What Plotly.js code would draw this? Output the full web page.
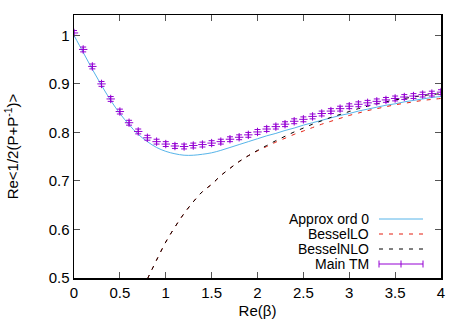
<!DOCTYPE html>
<html><head><meta charset="utf-8">
<script src="https://cdn.plot.ly/plotly-3.0.1.min.js"></script>
<style>html,body{margin:0;padding:0;background:#fff}#chart{width:468px;height:327px}</style>
</head><body><div id="chart"></div>
<script>
// ---- data ----
const beta = [0.0,0.1,0.2,0.3,0.4,0.5,0.6,0.7,0.8,0.9,1.0,1.1,1.2,1.3,1.4,1.5,1.6,1.7,1.8,1.9,2.0,
              2.1,2.2,2.3,2.4,2.5,2.6,2.7,2.8,2.9,3.0,3.1,3.2,3.3,3.4,3.5,3.6,3.7,3.8,3.9,4.0];
const mainTM = [1.005,0.971,0.936,0.900,0.869,0.843,0.820,0.802,0.789,0.781,0.776,0.772,0.771,0.773,0.775,0.778,0.781,0.786,0.790,0.795,0.801,
                0.807,0.812,0.817,0.823,0.827,0.833,0.839,0.844,0.849,0.854,0.858,0.861,0.864,0.867,0.870,0.873,0.875,0.878,0.880,0.883];
const mainTMerr = [0.005,0.005,0.005,0.005,0.005,0.005,0.005,0.005,0.005,0.005,0.005,0.005,0.005,0.005,0.005,0.005,0.005,0.005,0.005,0.005,0.005,
                   0.005,0.005,0.005,0.005,0.005,0.005,0.005,0.005,0.005,0.005,0.005,0.005,0.005,0.005,0.005,0.005,0.005,0.005,0.005,0.005];
const approxOrd0 = [1.000,0.965,0.930,0.897,0.866,0.839,0.816,0.796,0.781,0.769,0.761,0.756,0.753,0.753,0.755,0.758,0.763,0.769,0.775,0.781,0.787,
                    0.793,0.798,0.804,0.809,0.815,0.820,0.825,0.830,0.835,0.839,0.844,0.848,0.852,0.856,0.859,0.863,0.866,0.869,0.872,0.874];
const betaBessel = [0.8,0.9,1.0,1.1,1.2,1.3,1.4,1.5,1.6,1.7,1.8,1.9,2.0,2.1,2.2,2.3,2.4,2.5,2.6,2.7,2.8,2.9,3.0,3.1,3.2,3.3,3.4,3.5,3.6,3.7,3.8,3.9,4.0];
const besselLO  = [0.498,0.537,0.574,0.605,0.633,0.657,0.678,0.693,0.711,0.726,0.740,0.752,0.762,0.771,0.780,0.788,0.796,0.803,0.810,0.817,0.823,0.829,0.835,0.840,0.845,0.849,0.853,0.857,0.860,0.863,0.866,0.868,0.870];
const besselNLO = [0.498,0.537,0.574,0.605,0.633,0.657,0.678,0.693,0.711,0.726,0.740,0.752,0.763,0.773,0.783,0.792,0.801,0.809,0.817,0.824,0.831,0.837,0.843,0.849,0.854,0.859,0.863,0.867,0.870,0.873,0.876,0.878,0.880];
const seriesNames = ['Approx ord 0','BesselLO','BesselNLO','Main TM'];
const seriesColors = ['#56b4e9','#e51e10','#000000','#9400d3'];
const xTitle = 'Re(β)';
const yTitle = 'Re<1/2(P+P<sup>-1</sup>)>';

// ---- layout constants ----
const W = 468, H = 327;
const M = {l:74, r:27, t:15, b:49};
const font = {family:'Liberation Sans, Arial, sans-serif', size:15, color:'#000'};
const keyFont = {family:'Liberation Sans, Arial, sans-serif', size:14, color:'#000'};
const dashPat = '4px,6px';
const pw = W - M.l - M.r, ph = H - M.t - M.b;
const px2x = p => (p - M.l) / pw;
const py2y = p => (H - M.b - p) / ph;

const traces = [
  {x:beta, y:approxOrd0, mode:'lines', name:seriesNames[0], line:{color:seriesColors[0], width:1, shape:'spline'}, showlegend:false},
  {x:betaBessel, y:besselLO, mode:'lines', name:seriesNames[1], line:{color:seriesColors[1], width:1, dash:dashPat, shape:'spline'}, showlegend:false},
  {x:betaBessel, y:besselNLO, mode:'lines', name:seriesNames[2], line:{color:seriesColors[2], width:1, dash:dashPat, shape:'spline'}, showlegend:false},
  {x:beta, y:mainTM, mode:'markers', name:seriesNames[3],
   marker:{symbol:'cross-thin', size:6, line:{color:seriesColors[3], width:1}, color:seriesColors[3]},
   error_y:{type:'data', array:mainTMerr, visible:true, color:seriesColors[3], thickness:1, width:3}, showlegend:false}
];

// key drawn like the original: text right-aligned, sample to the right
const keyRows = [219, 234, 249, 264];
const keyTextRight = 370, keyLine0 = 379, keyLine1 = 423;
const annotations = [], shapes = [];
seriesNames.forEach((nm, i) => {
  annotations.push({xref:'paper', yref:'paper', x:px2x(keyTextRight), y:py2y(keyRows[i]), xanchor:'right', yanchor:'middle',
                    text:nm, showarrow:false, font:keyFont, borderpad:0});
  const ln = {color:seriesColors[i], width:1};
  if (i === 1 || i === 2) ln.dash = dashPat;
  shapes.push({type:'line', xref:'paper', yref:'paper', x0:px2x(keyLine0), x1:px2x(keyLine1), y0:py2y(keyRows[i]), y1:py2y(keyRows[i]), line:ln});
  if (i === 3) {
    [keyLine0, (keyLine0+keyLine1)/2, keyLine1].forEach(xp => {
      shapes.push({type:'line', xref:'paper', yref:'paper', x0:px2x(xp), x1:px2x(xp), y0:py2y(keyRows[i]-3.5), y1:py2y(keyRows[i]+3.5), line:{color:seriesColors[i], width:1}});
    });
  }
});

const axisCommon = {showgrid:false, zeroline:false, showline:true, linecolor:'#000', linewidth:1.5, mirror:'allticks',
                    ticks:'inside', ticklen:6, tickwidth:1, tickcolor:'#555', tickfont:font};
const layout = {
  width:W, height:H, margin:M, paper_bgcolor:'#fff', plot_bgcolor:'#fff', font:font, showlegend:false,
  xaxis:Object.assign({range:[0,4], tick0:0, dtick:0.5, title:{text:xTitle, font:font, standoff:6}}, axisCommon),
  yaxis:Object.assign({range:[0.5,1.042], tick0:0.5, dtick:0.1, title:{text:yTitle, font:font, standoff:26}}, axisCommon),
  annotations:annotations, shapes:shapes
};
Plotly.newPlot('chart', traces, layout, {staticPlot:true, displayModeBar:false});
</script></body></html>
